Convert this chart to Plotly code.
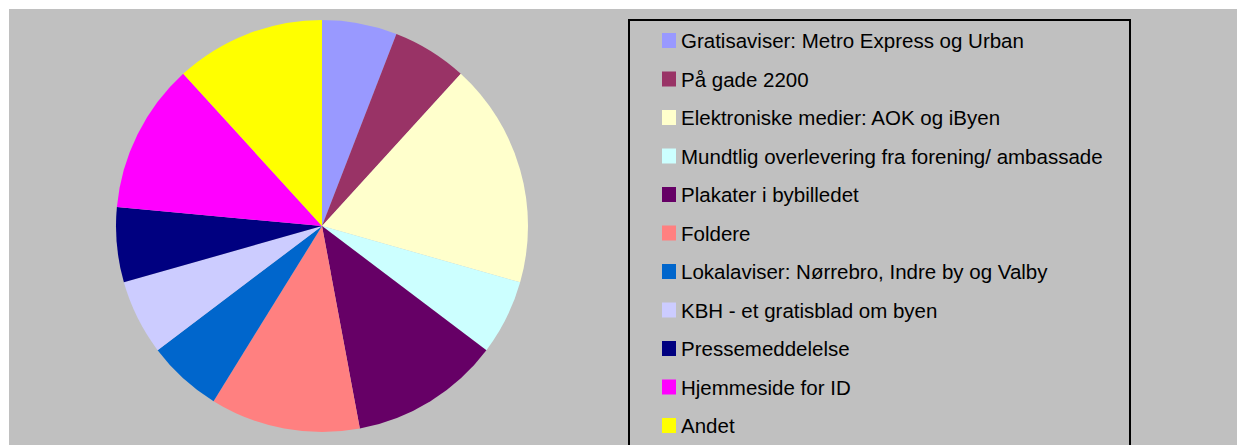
import plotly.graph_objects as go

labels = [
    "Gratisaviser: Metro Express og Urban",
    "På gade 2200",
    "Elektroniske medier: AOK og iByen",
    "Mundtlig overlevering fra forening/ ambassade",
    "Plakater i bybilledet",
    "Foldere",
    "Lokalaviser: Nørrebro, Indre by og Valby",
    "KBH - et gratisblad om byen",
    "Pressemeddelelse",
    "Hjemmeside for ID",
    "Andet",
]
values = [1, 1, 3, 1, 2, 2, 1, 1, 1, 2, 2]
colors = ["#9999FF", "#993366", "#FFFFCC", "#CCFFFF", "#660066", "#FF8080",
          "#0066CC", "#CCCCFF", "#000080", "#FF00FF", "#FFFF00"]

# page body has an 8px margin; figure is sized to fill the rest of the window
OFF = 8
W, H = 1245 - OFF, 445 - OFF
ML, MT = 1, 1
PW, PH = W - ML, H - MT


def px(x):
    return (x - OFF - ML) / PW


def py(y):
    return (H - (y - OFF)) / PH


fig = go.Figure(go.Pie(
    labels=labels,
    values=values,
    marker=dict(colors=colors, line=dict(width=0)),
    sort=False,
    direction="clockwise",
    rotation=0,
    textinfo="none",
    hoverinfo="label+value",
    showlegend=False,
    domain=dict(x=[px(116), px(528)], y=[py(432), py(20)]),
))

shapes = [
    dict(type="rect", xref="paper", yref="paper", x0=0, x1=1, y0=0, y1=1,
         fillcolor="#C0C0C0", line=dict(width=0), layer="below"),
    dict(type="rect", xref="paper", yref="paper", x0=px(629), x1=px(1130),
         y0=py(470), y1=py(20), fillcolor="rgba(0,0,0,0)",
         line=dict(color="#000000", width=2), layer="above"),
]
annotations = []
for i, (lab, col) in enumerate(zip(labels, colors)):
    cy = 40.5 + 38.5 * i
    shapes.append(dict(type="rect", xref="paper", yref="paper",
                       x0=px(662), x1=px(676), y0=py(cy + 7.5), y1=py(cy - 7.5),
                       fillcolor=col, line=dict(width=0), layer="above"))
    annotations.append(dict(xref="paper", yref="paper", x=px(679), y=py(cy),
                            xanchor="left", yanchor="middle", text=lab,
                            showarrow=False,
                            font=dict(family="Liberation Sans, Arial", size=20.5,
                                      color="#000000")))

fig.update_layout(
    width=W, height=H,
    margin=dict(l=ML, r=0, t=MT, b=0, pad=0),
    paper_bgcolor="#FFFFFF",
    shapes=shapes,
    annotations=annotations,
)

fig.write_html("out.html")
